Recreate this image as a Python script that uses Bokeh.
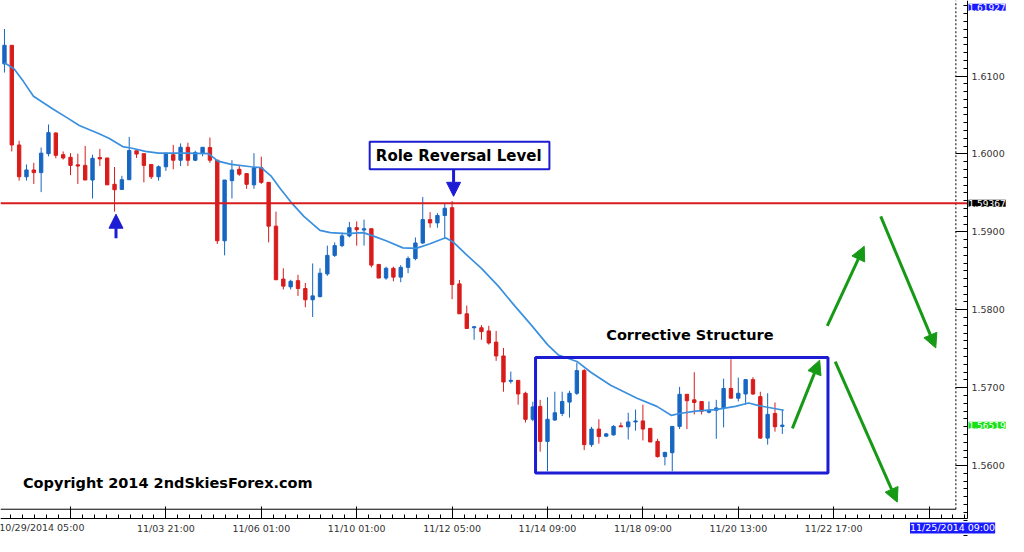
from bokeh.plotting import figure
from bokeh.models import (FixedTicker, Range1d, Label, Arrow, NormalHead,
                          NumeralTickFormatter, ColumnDataSource)
from bokeh.core.properties import value
from bokeh.embed import file_html
from bokeh.resources import INLINE

# ---------------- data (GBPUSD H4) ----------------
opens = [1.61156, 1.61394, 1.60115, 1.59707, 1.59794, 1.59760, 1.60003, 1.60269, 1.59990, 1.59957,
         1.59860, 1.59853, 1.59665, 1.59953, 1.59948, 1.59610, 1.59544, 1.59669, 1.60040, 1.60003,
         1.59865, 1.59707, 1.59835, 1.59990, 1.59919, 1.60085, 1.59919, 1.60010, 1.60082, 1.59919,
         1.58885, 1.59657, 1.59803, 1.59748, 1.59603, 1.59823, 1.59635, 1.59073, 1.58394, 1.58294,
         1.58373, 1.58273, 1.58128, 1.58169, 1.58460, 1.58698, 1.58823, 1.58948, 1.59053, 1.59023,
         1.59040, 1.58582, 1.58407, 1.58532, 1.58419, 1.58544, 1.58657, 1.58857, 1.59157, 1.59115,
         1.59210, 1.59310, 1.58332, 1.57948, 1.57769, 1.57769, 1.57728, 1.57585, 1.57407, 1.57082,
         1.57094, 1.56928, 1.56594, 1.56760, 1.56310, 1.56585, 1.56669, 1.56815, 1.56928, 1.57219,
         1.56269, 1.56469, 1.56378, 1.56394, 1.56510, 1.56498, 1.56560, 1.56573, 1.56478, 1.56310,
         1.56115, 1.56165, 1.56503, 1.56915, 1.56844, 1.56823, 1.56685, 1.56710, 1.56740, 1.56990,
         1.56865, 1.56919, 1.57103, 1.56885, 1.56353, 1.56669, 1.56503]
highs = [1.61603, 1.61394, 1.60169, 1.59865, 1.59885, 1.60082, 1.60378, 1.60275, 1.60032, 1.60010,
         1.60003, 1.60103, 1.59990, 1.60065, 1.59948, 1.59832, 1.59719, 1.60219, 1.60040, 1.60003,
         1.59865, 1.59853, 1.60010, 1.60115, 1.60135, 1.60144, 1.60040, 1.60085, 1.60210, 1.59919,
         1.59665, 1.59919, 1.59844, 1.59748, 1.60010, 1.59965, 1.59635, 1.59260, 1.58532, 1.58385,
         1.58448, 1.58344, 1.58594, 1.58532, 1.58823, 1.58865, 1.58990, 1.59128, 1.59135, 1.59157,
         1.59045, 1.58582, 1.58553, 1.58553, 1.58573, 1.58685, 1.58928, 1.59448, 1.59253, 1.59240,
         1.59365, 1.59394, 1.58382, 1.58053, 1.57790, 1.57803, 1.57794, 1.57728, 1.57510, 1.57207,
         1.57094, 1.56948, 1.56819, 1.56844, 1.56878, 1.56948, 1.56948, 1.56960, 1.57323, 1.57240,
         1.56498, 1.56594, 1.56420, 1.56519, 1.56553, 1.56678, 1.56719, 1.56782, 1.56478, 1.56344,
         1.56178, 1.56503, 1.57010, 1.56915, 1.57198, 1.56823, 1.56823, 1.56844, 1.57115, 1.57365,
         1.57128, 1.57103, 1.57135, 1.56948, 1.56928, 1.56810, 1.56719]
lows = [1.61044, 1.60032, 1.59657, 1.59657, 1.59615, 1.59510, 1.59969, 1.59944, 1.59928, 1.59728,
        1.59615, 1.59665, 1.59428, 1.59844, 1.59603, 1.59260, 1.59544, 1.59669, 1.59948, 1.59635,
        1.59678, 1.59657, 1.59782, 1.59803, 1.59844, 1.59844, 1.59907, 1.59969, 1.59885, 1.58844,
        1.58698, 1.59428, 1.59719, 1.59553, 1.59553, 1.59615, 1.58865, 1.58385, 1.58260, 1.58260,
        1.58178, 1.58032, 1.57907, 1.58157, 1.58435, 1.58678, 1.58803, 1.58928, 1.58823, 1.58823,
        1.58544, 1.58407, 1.58385, 1.58365, 1.58353, 1.58469, 1.58635, 1.58844, 1.59053, 1.59053,
        1.58907, 1.58135, 1.57948, 1.57760, 1.57615, 1.57615, 1.57553, 1.57344, 1.56948, 1.57053,
        1.56782, 1.56553, 1.56569, 1.56178, 1.55928, 1.56573, 1.56635, 1.56615, 1.56907, 1.56198,
        1.56240, 1.56282, 1.56365, 1.56385, 1.56498, 1.56335, 1.56448, 1.56323, 1.56303, 1.56103,
        1.56003, 1.55928, 1.56469, 1.56469, 1.56657, 1.56657, 1.56669, 1.56344, 1.56490, 1.56865,
        1.56823, 1.56782, 1.56907, 1.56344, 1.56269, 1.56435, 1.56407]
closes = [1.61394, 1.60115, 1.59707, 1.59794, 1.59760, 1.60010, 1.60273, 1.59982, 1.59948, 1.59853,
          1.59844, 1.59665, 1.59944, 1.59936, 1.59603, 1.59540, 1.59669, 1.60044, 1.59998, 1.59853,
          1.59707, 1.59835, 1.60010, 1.59919, 1.60085, 1.59919, 1.60019, 1.60085, 1.59919, 1.58885,
          1.59665, 1.59794, 1.59740, 1.59610, 1.59823, 1.59635, 1.59073, 1.58385, 1.58303, 1.58365,
          1.58273, 1.58128, 1.58178, 1.58469, 1.58698, 1.58823, 1.58948, 1.59053, 1.59028, 1.59040,
          1.58573, 1.58407, 1.58532, 1.58419, 1.58544, 1.58657, 1.58857, 1.59157, 1.59115, 1.59210,
          1.59303, 1.58323, 1.57948, 1.57760, 1.57782, 1.57719, 1.57573, 1.57407, 1.57073, 1.57094,
          1.56919, 1.56594, 1.56753, 1.56310, 1.56594, 1.56678, 1.56823, 1.56928, 1.57219, 1.56269,
          1.56469, 1.56373, 1.56407, 1.56503, 1.56498, 1.56560, 1.56573, 1.56469, 1.56303, 1.56115,
          1.56169, 1.56503, 1.56915, 1.56832, 1.56810, 1.56698, 1.56710, 1.56740, 1.56990, 1.56865,
          1.56928, 1.57103, 1.56919, 1.56353, 1.56657, 1.56498, 1.56519]

# moving average, x = bar number
ma_bar = [0, 1.3, 2.6, 3.95, 5.3, 6.65, 8.45, 10.2, 12.9, 14.3, 16.1, 17.4, 19.2, 21, 24.6, 27.8,
          29.1, 30.9, 33.6, 35, 36.3, 37.6, 39, 40.8, 43, 44.4, 46.6, 48.9, 50.2, 52, 54.3, 56.1,
          57.9, 60.1, 61.2, 62.8, 65, 67.3, 69.5, 71.8, 74, 75.5, 78.1, 79.9, 82.6, 86.2, 88.9,
          90.9, 92, 94.2, 96.9, 99.6, 101.4, 102.8, 106.2]
ma_val = [1.61169, 1.61094, 1.60928, 1.60740, 1.60657, 1.60573, 1.60469, 1.60365, 1.60260, 1.60198,
          1.60094, 1.60073, 1.60032, 1.60010, 1.60010, 1.60003, 1.59907, 1.59865, 1.59835, 1.59823,
          1.59719, 1.59553, 1.59385, 1.59198, 1.59019, 1.58990, 1.58978, 1.58990, 1.58948, 1.58885,
          1.58794, 1.58788, 1.58844, 1.58925, 1.58865, 1.58719, 1.58532, 1.58303, 1.58053, 1.57803,
          1.57553, 1.57419, 1.57332, 1.57198, 1.57032, 1.56865, 1.56760, 1.56644, 1.56669, 1.56698,
          1.56719, 1.56760, 1.56803, 1.56769, 1.56710]

level_price = 1.59367
last_price = 1.56519
top_price = 1.61927

price_ticks = [1.56, 1.57, 1.58, 1.59, 1.60, 1.61]
time_ticks = [9, 22, 35, 48, 61, 74, 87, 100, 113, 126]
time_labels = ["", "11/03 21:00", "11/06 01:00", "11/10 01:00", "11/12 05:00",
               "11/14 09:00", "11/18 09:00", "11/20 13:00", "11/22 17:00", ""]
first_label = "10/29/2014 05:00"
first_label_bar = 5.1
last_label = "11/25/2014 09:00"
last_label_bar = 129.2

# drawings (bar number, price)
role_box = dict(left=49.77, right=74.26, top=1.60156, bottom=1.59802)
role_text = ("Role Reversal Level", 61.9, 1.59978)
corr_box = dict(left=72.37, right=112.22, top=1.57388, bottom=1.55906)
corr_text = ("Corrective Structure", 93.4, 1.57675)
copy_text = ("Copyright 2014 2ndSkiesForex.com", 2.52, 1.55781)
blue_arrows = [(15.2, 1.58919, 15.2, 1.59226), (61.2, 1.59802, 61.2, 1.59456)]
green_arrows = [(107.37, 1.56478, 111.09, 1.57353),
                (112.13, 1.57794, 117.16, 1.58815),
                (119.41, 1.59198, 126.91, 1.57510),
                (113.21, 1.57335, 121.66, 1.55531)]

# chart geometry (bar number / price of the scale edges)
X_START, X_END = -0.539, 136.82
Y_START, Y_END = 1.55090, 1.61969
AXIS_BAR = 131.23          # price scale line
AXIS_PRICE = 1.55321       # time scale line
chart_right_bar = 129.65   # dotted chart border
chart_bottom_price = 1.55440
label_row_price = 1.55270  # row of the time labels

# ---------------- styling ----------------
RED = "#d81c1c"
CBLUE = "#1766c2"
MABLUE = "#3a90de"
ABLUE = "#1c1cd4"
GREEN = "#169a16"
FONT = "DejaVu Sans"

n = len(opens)
bars = list(range(n))
colors = [CBLUE if c >= o else RED for o, c in zip(opens, closes)]
src = ColumnDataSource(dict(
    x=bars, high=highs, low=lows,
    top=[max(o, c) for o, c in zip(opens, closes)],
    bottom=[min(o, c) for o, c in zip(opens, closes)],
    color=colors))

p = figure(width=1008, height=536, output_backend="svg", toolbar_location=None,
           x_range=Range1d(X_START, X_END), y_range=Range1d(Y_START, Y_END),
           y_axis_location="right", min_border=0)
p.outline_line_color = None
p.grid.visible = False
p.background_fill_color = "white"

# chart border
p.segment(x0=[X_START], x1=[chart_right_bar], y0=[chart_bottom_price], y1=[chart_bottom_price],
          line_color="black", line_width=1)
p.segment(x0=[chart_right_bar], x1=[chart_right_bar], y0=[chart_bottom_price], y1=[Y_END],
          line_color="black", line_width=1, line_dash="2 2")

# candles
p.segment(x0="x", x1="x", y0="low", y1="high", color="color", line_width=1, source=src)
p.vbar(x="x", width=0.46, top="top", bottom="bottom", fill_color="color",
       line_color="color", line_width=1, source=src)
# moving average
p.line(ma_bar, ma_val, line_color=MABLUE, line_width=1.7)

# level line
p.segment(x0=[X_START], x1=[AXIS_BAR], y0=[level_price], y1=[level_price],
          line_color=RED, line_width=2)

# role reversal box
p.quad(left=[role_box["left"]], right=[role_box["right"]], top=[role_box["top"]],
       bottom=[role_box["bottom"]], fill_color="white", line_color=ABLUE, line_width=2)
p.text(x=[role_text[1]], y=[role_text[2]], text=[role_text[0]], text_font=value(FONT),
       text_font_style="bold", text_font_size="15px", text_align="center",
       text_baseline="middle", text_color="black")
# corrective structure box
p.quad(left=[corr_box["left"]], right=[corr_box["right"]], top=[corr_box["top"]],
       bottom=[corr_box["bottom"]], fill_color=None, line_color=ABLUE, line_width=3)
p.text(x=[corr_text[1]], y=[corr_text[2]], text=[corr_text[0]], text_font=value(FONT),
       text_font_style="bold", text_font_size="14.5px", text_align="center",
       text_baseline="middle", text_color="black")
p.text(x=[copy_text[1]], y=[copy_text[2]], text=[copy_text[0]], text_font=value(FONT),
       text_font_style="bold", text_font_size="14.5px", text_align="left",
       text_baseline="middle", text_color="black")

for (x0, y0, x1, y1) in blue_arrows:
    p.add_layout(Arrow(x_start=x0, y_start=y0, x_end=x1, y_end=y1, line_color=ABLUE,
                       line_width=3, end=NormalHead(size=14, fill_color=ABLUE,
                                                    line_color=ABLUE, line_width=1)))
for (x0, y0, x1, y1) in green_arrows:
    p.add_layout(Arrow(x_start=x0, y_start=y0, x_end=x1, y_end=y1, line_color=GREEN,
                       line_width=3, end=NormalHead(size=14, fill_color=GREEN,
                                                    line_color=GREEN, line_width=1)))

# axes (fixed inside the frame, MT4 style)
for ax in (p.xaxis[0], p.yaxis[0]):
    ax.axis_line_color = "black"
    ax.major_tick_line_color = "black"
    ax.minor_tick_line_color = "black"
    ax.major_tick_in = 12
    ax.major_tick_out = 0
    ax.minor_tick_in = 4
    ax.minor_tick_out = 0
    ax.major_label_text_font = FONT
    ax.major_label_text_font_size = "9.5px"
    ax.major_label_text_color = "#333333"

yax = p.yaxis[0]
yax.fixed_location = AXIS_BAR
yax.bounds = (AXIS_PRICE, Y_END)
yax.ticker = FixedTicker(ticks=price_ticks,
                         minor_ticks=[round(1.550 + 0.001 * k, 3) for k in range(70)])
yax.formatter = NumeralTickFormatter(format="0.0000")
yax.major_label_standoff = 4

xax = p.xaxis[0]
xax.fixed_location = AXIS_PRICE
xax.bounds = (X_START, AXIS_BAR)
xax.ticker = FixedTicker(ticks=time_ticks,
                         minor_ticks=[9 + 13 / 8 * k for k in range(-5, 76)])
xax.major_label_overrides = {t: l for t, l in zip(time_ticks, time_labels)}
xax.major_label_standoff = 4

# extra scale texts
p.add_layout(Label(x=first_label_bar, y=label_row_price, text=first_label,
                   text_font=FONT, text_font_size="9.5px", text_color="#333333",
                   text_align="center", text_baseline="top"))
p.add_layout(Label(x=last_label_bar, y=label_row_price, text=last_label,
                   text_font=FONT, text_font_size="9.5px", text_color="white",
                   text_align="center", text_baseline="top", background_fill_color="#1a1aff"))
for price, bg, base in [(top_price, "#1a1aff", "top"), (level_price, "black", "middle"),
                        (last_price, "#16e016", "middle")]:
    p.add_layout(Label(x=AXIS_BAR, x_offset=1, y=min(price, Y_END), text=f"{price:.5f}",
                       text_font=FONT, text_font_size="9px", text_color="white",
                       text_align="left", text_baseline=base, background_fill_color=bg))

open("out.html", "w").write(file_html(p, INLINE))
